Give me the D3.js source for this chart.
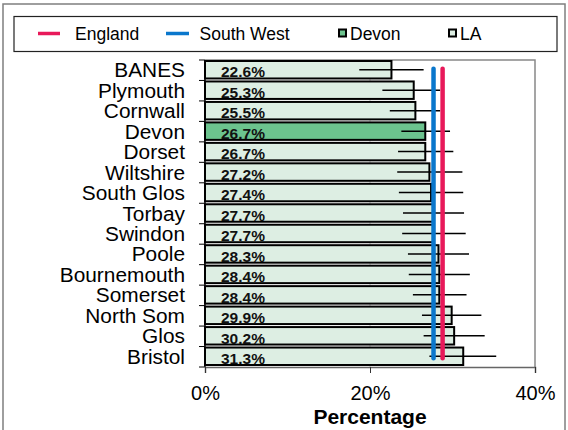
<!DOCTYPE html>
<html>
<head>
<meta charset="utf-8">
<script src="https://cdn.jsdelivr.net/npm/d3@7"></script>
<style>
  html, body { margin: 0; padding: 0; background: #fff; }
  svg { display: block; font-family: Arial, "Liberation Sans", sans-serif; }
</style>
</head>
<body>
<svg id="chart" width="568" height="430"></svg>
<script>
const categories = ["BANES","Plymouth","Cornwall","Devon","Dorset","Wiltshire","South Glos","Torbay","Swindon","Poole","Bournemouth","Somerset","North Som","Glos","Bristol"];
const values = [22.6,25.3,25.5,26.7,26.7,27.2,27.4,27.7,27.7,28.3,28.4,28.4,29.9,30.2,31.3];
const lowerCI = [18.7,21.5,22.4,23.8,23.4,23.3,23.5,24.0,23.9,24.6,24.7,25.2,26.3,26.5,27.2];
const upperCI = [26.5,28.5,28.5,29.7,30.1,31.2,31.3,31.4,31.6,32.0,32.1,31.7,33.5,33.9,35.3];
const highlight = "Devon";
const englandValue = 28.8;
const southWestValue = 27.7;
const xTicks = [0, 20, 40];
const legendItems = ["England", "South West", "Devon", "LA"];

const svg = d3.select("#chart");
const pLeft = 205, pRight = 535, pTop = 60, pBottom = 367;

const x = d3.scaleLinear().domain([0, 40]).range([pLeft, pRight]);
const y = d3.scaleBand().domain(categories).range([pTop, pBottom]).paddingInner(0).paddingOuter(0);

const RED = "#E8195A", BLUE = "#0A77CC", LAFILL = "#DDEEE3", DEVONFILL = "#6CC38E";

// outer chart border
svg.append("rect").attr("x", 3).attr("y", 4).attr("width", 562).attr("height", 440)
  .attr("fill", "none").attr("stroke", "#7f7f7f").attr("stroke-width", 1.5);

// legend box
svg.append("rect").attr("x", 14).attr("y", 16.5).attr("width", 543).attr("height", 35)
  .attr("fill", "#fff").attr("stroke", "#222").attr("stroke-width", 1.2);

const lg = svg.append("g").attr("font-size", 17.5).attr("fill", "#000");
lg.append("line").attr("x1", 38).attr("x2", 60).attr("y1", 33.5).attr("y2", 33.5).attr("stroke", RED).attr("stroke-width", 3.5);
lg.append("text").attr("x", 75).attr("y", 40).text(legendItems[0]);
lg.append("line").attr("x1", 166).attr("x2", 189).attr("y1", 33.5).attr("y2", 33.5).attr("stroke", BLUE).attr("stroke-width", 3.5);
lg.append("text").attr("x", 199.5).attr("y", 40).text(legendItems[1]);
lg.append("rect").attr("x", 339).attr("y", 29.5).attr("width", 7).attr("height", 7).attr("fill", DEVONFILL).attr("stroke", "#000").attr("stroke-width", 2);
lg.append("text").attr("x", 350).attr("y", 40).text(legendItems[2]);
lg.append("rect").attr("x", 449).attr("y", 29.5).attr("width", 7).attr("height", 7).attr("fill", LAFILL).attr("stroke", "#000").attr("stroke-width", 2);
lg.append("text").attr("x", 460).attr("y", 40).text(legendItems[3]);

// plot frame (top & right gray)
svg.append("path").attr("d", `M${pLeft},${pTop}H${pRight}V${pBottom}`)
  .attr("fill", "none").attr("stroke", "#888").attr("stroke-width", 1.5);

// gridlines
svg.append("g").selectAll("line").data(xTicks.filter(d => d > 0 && d < 40)).join("line")
  .attr("x1", d => x(d)).attr("x2", d => x(d)).attr("y1", pTop).attr("y2", pBottom)
  .attr("stroke", "#c8c8c8").attr("stroke-width", 1);

// bars
const step = y.step();
svg.append("g").selectAll("rect").data(categories).join("rect")
  .attr("x", x(0))
  .attr("y", d => y(d) + 1)
  .attr("width", (d, i) => x(values[i]) - x(0))
  .attr("height", step - 3)
  .attr("fill", d => d === highlight ? DEVONFILL : LAFILL)
  .attr("stroke", "#000").attr("stroke-width", 2);

// error bars
svg.append("g").selectAll("line").data(categories).join("line")
  .attr("x1", (d, i) => x(lowerCI[i])).attr("x2", (d, i) => x(upperCI[i]))
  .attr("y1", d => y(d) + step / 2 - 0.5).attr("y2", d => y(d) + step / 2 - 0.5)
  .attr("stroke", "#000").attr("stroke-width", 1.5);

// value labels
svg.append("g").selectAll("text").data(categories).join("text")
  .attr("x", 221).attr("y", d => y(d) + step - 3)
  .attr("font-size", 15.5).attr("font-weight", "bold").attr("fill", "#111")
  .text((d, i) => values[i].toFixed(1) + "%");

// reference lines
const ly0 = y(categories[0]) + step / 2 - 1.5;
const ly1 = y(categories[categories.length - 1]) + step / 2 + 1.5;
svg.append("line").attr("x1", x(southWestValue)).attr("x2", x(southWestValue)).attr("y1", ly0).attr("y2", ly1)
  .attr("stroke", BLUE).attr("stroke-width", 4.5).attr("stroke-linecap", "round");
svg.append("line").attr("x1", x(englandValue)).attr("x2", x(englandValue)).attr("y1", ly0).attr("y2", ly1)
  .attr("stroke", RED).attr("stroke-width", 4.5).attr("stroke-linecap", "round");

// y axis
const yAxisG = svg.append("g");
yAxisG.append("line").attr("x1", pLeft).attr("x2", pLeft).attr("y1", pTop).attr("y2", pBottom).attr("stroke", "#000").attr("stroke-width", 1.5);
yAxisG.selectAll("line.tk").data(categories).join("line").attr("class", "tk")
  .attr("x1", pLeft - 6).attr("x2", pLeft).attr("y1", d => y(d) + step).attr("y2", d => y(d) + step)
  .attr("stroke", "#000").attr("stroke-width", 1);
yAxisG.append("line").attr("x1", pLeft - 6).attr("x2", pLeft).attr("y1", pTop).attr("y2", pTop).attr("stroke", "#000");
yAxisG.selectAll("text").data(categories).join("text")
  .attr("transform", d => `translate(185,${y(d) + step / 2 + 7}) scale(1.07,1)`)
  .attr("text-anchor", "end").attr("font-size", 19.5).attr("fill", "#000")
  .text(d => d);

// x axis
const xAxis = d3.axisBottom(x).tickValues(xTicks).tickFormat(d => d + "%").tickSize(6).tickPadding(13);
const xg = svg.append("g").attr("transform", `translate(0,${pBottom})`).call(xAxis);
xg.select(".domain").attr("stroke", "#666").attr("stroke-width", 1.5);
xg.selectAll(".tick line").attr("stroke", "#333");
xg.selectAll(".tick text").attr("font-size", 20).attr("fill", "#000").attr("font-family", "Arial, 'Liberation Sans', sans-serif");

svg.append("text").attr("x", x(20)).attr("y", 424).attr("text-anchor", "middle")
  .attr("font-size", 21).attr("font-weight", "bold").attr("fill", "#000").text("Percentage");
</script>
</body>
</html>
